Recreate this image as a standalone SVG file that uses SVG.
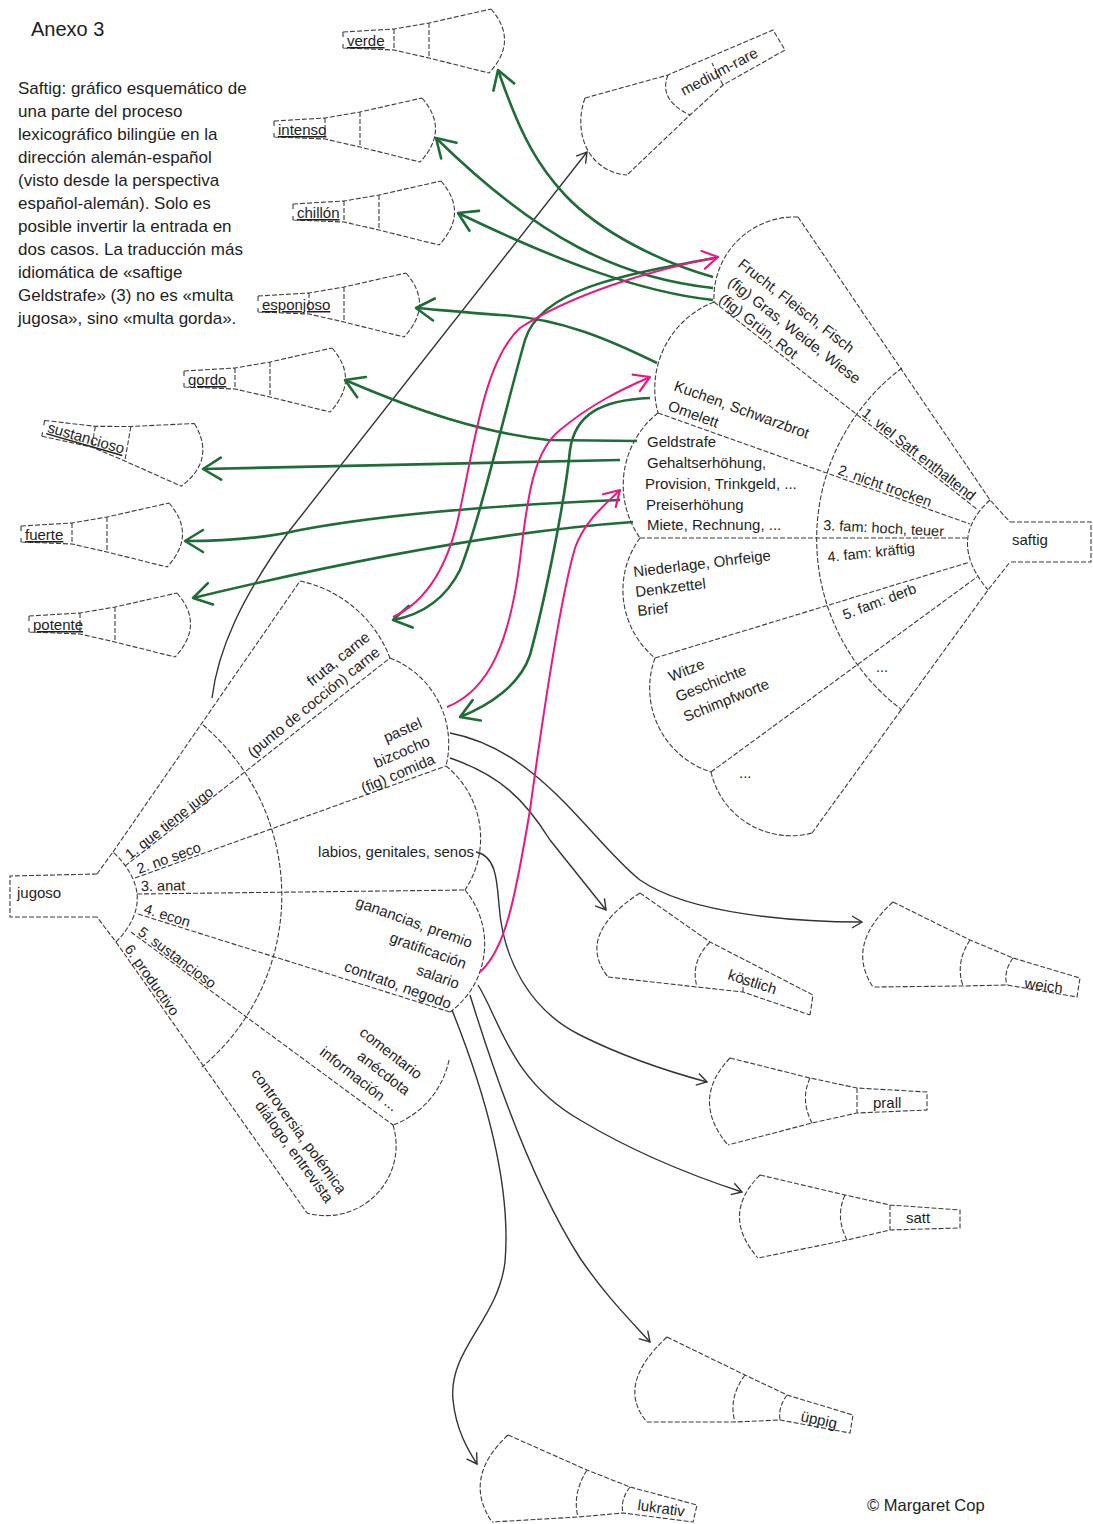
<svg xmlns="http://www.w3.org/2000/svg" width="1093" height="1524" viewBox="0 0 1093 1524">
<defs>
<style>
.ln{fill:none;stroke:#3c3c3c;stroke-width:1.1;stroke-dasharray:5 2}
.bk{fill:none;stroke:#333;stroke-width:1.4}
.gr{fill:none;stroke:#1f6d36;stroke-width:2.6}
.pk{fill:none;stroke:#e8197f;stroke-width:2}
text{font-family:"Liberation Sans",Arial,sans-serif;fill:#1e1e1e}
.t15{font-size:15px}
.t14{font-size:14.5px}
.sp{font-size:15px;text-decoration:underline}
.de{font-size:15px}
.par{font-size:17px}
</style>
<marker id="mg" markerUnits="userSpaceOnUse" markerWidth="28" markerHeight="28" viewBox="-22 -14 28 28" refX="0" refY="0" orient="auto"><path d="M-18,-11 L0,0 L-18,11" fill="none" stroke="#1f6d36" stroke-width="2.6" stroke-linecap="round" stroke-linejoin="round"/></marker>
<marker id="mp" markerUnits="userSpaceOnUse" markerWidth="24" markerHeight="24" viewBox="-18 -12 24 24" refX="0" refY="0" orient="auto"><path d="M-15,-9 L0,0 L-15,9" fill="none" stroke="#e8197f" stroke-width="2.2" stroke-linecap="round" stroke-linejoin="round"/></marker>
<marker id="mb" markerUnits="userSpaceOnUse" markerWidth="16" markerHeight="16" viewBox="-12 -8 16 16" refX="0" refY="0" orient="auto"><path d="M-10,-6 L0,0 L-10,6" fill="none" stroke="#333" stroke-width="1.4"/></marker>
<path id="sf" fill="none" stroke="#3c3c3c" stroke-width="1.1" stroke-dasharray="5 2" d="M-4,-9 L47,-12 L82,-18 L144,-32 M-4,7 L47,9 L82,17 L142,32 M-4,-9 L-4,-4 M-4,7 L-4,3 M47,-12 L47,9 M82,-18 L82,17 M144,-32 Q172,0 142,32"/>
</defs>
<rect x="0" y="0" width="1093" height="1524" fill="#ffffff"/>

<g id="title">
<text x="31" y="36" style="font-size:20px">Anexo 3</text>
<text class="par" x="18" y="94">Saftig: gráfico esquemático de</text>
<text class="par" x="18" y="117">una parte del proceso</text>
<text class="par" x="18" y="140">lexicográfico bilingüe en la</text>
<text class="par" x="18" y="163">dirección alemán-español</text>
<text class="par" x="18" y="186">(visto desde la perspectiva</text>
<text class="par" x="18" y="209">español-alemán). Solo es</text>
<text class="par" x="18" y="232">posible invertir la entrada en</text>
<text class="par" x="18" y="255">dos casos. La traducción más</text>
<text class="par" x="18" y="278">idiomática de «saftige</text>
<text class="par" x="18" y="301">Geldstrafe» (3) no es «multa</text>
<text class="par" x="18" y="324">jugosa», sino «multa gorda».</text>
</g>

<g id="saftig">
<path class="ln" d="M1010,522 L1091,522 L1091,562 L1010,562"/>
<path class="ln" d="M798,217 L990,500 L1010,522 M714,302 L978,510 M658,413 L970,524 M640,538 L968,538 M655,658 L970,562 M711,772 L977,577 M812,833 L988,590 L1010,562"/>
<path class="ln" d="M990,500 Q946,540 988,590"/>
<path class="ln" d="M902,368 A214,214 0 0 0 902,710"/>
<path class="ln" d="M798,217 A81,81 0 0 0 714,302 M714,302 A93,93 0 0 0 658,413 M658,413 A92,92 0 0 0 640,538 M640,538 A88,88 0 0 0 655,658 M655,658 A88,88 0 0 0 711,772 M711,772 A82,82 0 0 0 812,833"/>
<text class="t15" x="1012" y="545">saftig</text>
<text class="t14" transform="translate(861,415) rotate(38.2)">1. viel Saft enthaltend</text>
<text class="t14" transform="translate(837,474) rotate(19.6)">2. nicht trocken</text>
<text class="t14" transform="translate(823,530) rotate(3)">3. fam: hoch, teuer</text>
<text class="t14" transform="translate(828,562) rotate(-6)">4. fam: kräftig</text>
<text class="t14" transform="translate(845,620) rotate(-21)">5. fam: derb</text>
<text class="t14" x="876" y="672">...</text>
<text class="t15" transform="translate(737,266) rotate(38)">Frucht, Fleisch, Fisch</text>
<text class="t15" transform="translate(727,284) rotate(38)">(fig) Gras, Weide, Wiese</text>
<text class="t15" transform="translate(718,301) rotate(38)">(fig) Grün, Rot</text>
<text class="t15" transform="translate(673,390) rotate(20)">Kuchen, Schwarzbrot</text>
<text class="t15" transform="translate(667,410) rotate(20)">Omelett</text>
<text class="t15" x="647" y="447">Geldstrafe</text>
<text class="t15" x="647" y="468">Gehaltserhöhung,</text>
<text class="t15" x="645" y="489">Provision, Trinkgeld, ...</text>
<text class="t15" x="646" y="510">Preiserhöhung</text>
<text class="t15" x="647" y="530">Miete, Rechnung, ...</text>
<text class="t15" transform="translate(634,577) rotate(-7)">Niederlage, Ohrfeige</text>
<text class="t15" transform="translate(636,597) rotate(-7)">Denkzettel</text>
<text class="t15" transform="translate(638,616) rotate(-6)">Brief</text>
<text class="t15" transform="translate(671,682) rotate(-22)">Witze</text>
<text class="t15" transform="translate(678,702) rotate(-22)">Geschichte</text>
<text class="t15" transform="translate(686,722) rotate(-22)">Schimpfworte</text>
<text class="t15" x="739" y="778">...</text>
</g>

<g id="jugoso">
<path class="ln" d="M97,874 L10,876 L10,917 L97,917"/>
<path class="ln" d="M97,874 L113,852 Q160,897 116,942 L97,917"/>
<path class="ln" d="M113,852 L300,581 M125,866 L390,658 M135,878 L446,766 M137,894 L465,890 M138,914 L450,1012 M131,932 L393,1125 M116,942 L307,1213"/>
<path class="ln" d="M203,725 A224,224 0 0 1 202,1067"/>
<path class="ln" d="M300,581 A124,124 0 0 1 390,658 M390,658 A92,92 0 0 1 446,766 M446,766 A93,93 0 0 1 465,890 M465,890 A84,84 0 0 1 450,1012 M449,1060 A88,88 0 0 1 393,1125 M393,1125 A70,70 0 0 1 307,1213"/>
<text class="t15" x="17" y="898">jugoso</text>
<text class="t14" transform="translate(130,860) rotate(-38.1)">1. que tiene jugo</text>
<text class="t14" transform="translate(139,874) rotate(-19.8)">2. no seco</text>
<text class="t14" transform="translate(141,891) rotate(-0.7)">3. anat</text>
<text class="t14" transform="translate(143,913) rotate(17.4)">4. econ</text>
<text class="t14" transform="translate(137,934) rotate(36.4)">5. sustancioso</text>
<text class="t14" transform="translate(124,949) rotate(54.8)">6. productivo</text>
<text class="t15" text-anchor="end" transform="translate(371,639) rotate(-39)">fruta, carne</text>
<text class="t15" text-anchor="end" transform="translate(381,654) rotate(-39)">(punto de cocción) carne</text>
<text class="t15" text-anchor="end" transform="translate(423,727) rotate(-23)">pastel</text>
<text class="t15" text-anchor="end" transform="translate(431,745) rotate(-23)">bizcocho</text>
<text class="t15" text-anchor="end" transform="translate(436,763) rotate(-23)">(fig) comida</text>
<text class="t15" text-anchor="end" x="474" y="857">labios, genitales, senos</text>
<text class="t15" text-anchor="end" transform="translate(470,948) rotate(20)">ganancias, premio</text>
<text class="t15" text-anchor="end" transform="translate(464,969) rotate(20)">gratificación</text>
<text class="t15" text-anchor="end" transform="translate(457,989) rotate(20)">salario</text>
<text class="t15" text-anchor="end" transform="translate(449,1009) rotate(20)">contrato, negodo</text>
<text class="t15" text-anchor="end" transform="translate(417,1080) rotate(38)">comentario</text>
<text class="t15" text-anchor="end" transform="translate(405,1096) rotate(38)">anécdota</text>
<text class="t15" text-anchor="end" transform="translate(393,1112) rotate(38)">información ...</text>
<text class="t15" text-anchor="end" transform="translate(339,1195) rotate(54)">controversia, polémica</text>
<text class="t15" text-anchor="end" transform="translate(326,1204) rotate(54)">diálogo, entrevista</text>
</g>

<g id="es-verde" transform="translate(347,41)"><use href="#sf"/><text class="sp" x="0" y="5">verde</text></g>
<g id="es-intenso" transform="translate(278,130)"><use href="#sf"/><text class="sp" x="0" y="5">intenso</text></g>
<g id="es-chillon" transform="translate(297,213)"><use href="#sf"/><text class="sp" x="0" y="5">chillón</text></g>
<g id="es-esponjoso" transform="translate(262,305)"><use href="#sf"/><text class="sp" x="0" y="5">esponjoso</text></g>
<g id="es-gordo" transform="translate(188,380)"><use href="#sf"/><text class="sp" x="0" y="5">gordo</text></g>
<g id="es-sustancioso" transform="translate(47,430) rotate(10)"><use href="#sf"/><text class="sp" transform="translate(0,2) rotate(6)">sustancioso</text></g>
<g id="es-fuerte" transform="translate(25,535)"><use href="#sf"/><text class="sp" x="0" y="5">fuerte</text></g>
<g id="es-potente" transform="translate(33,625)"><use href="#sf"/><text class="sp" x="0" y="5">potente</text></g>

<g id="de-medium-rare">
<path class="ln" d="M585,98 C572,135 590,172 627,175 M585,98 L668,75 L773,30 L785,50 L723,85 L690,115 L627,175 M668,75 Q658,100 690,115 M723,85 L712,63"/>
<text class="de" transform="translate(684,96) rotate(-28)">medium-rare</text>
</g>
<g id="de-koestlich">
<path class="ln" d="M640,893 Q575,935 608,977 M640,893 L710,942 L813,995 L810,1015 M608,977 L697,987 L743,992 L810,1015 M710,942 Q690,962 697,987 M743,980 L743,992"/>
<text class="de" transform="translate(727,979) rotate(18)">köstlich</text>
</g>
<g id="de-weich">
<path class="ln" d="M893,902 Q845,945 873,987 M893,902 L970,940 L1013,958 L1080,978 L1077,997 L1007,985 L963,986 L873,987 M970,940 Q955,963 963,986 M1013,958 Q1003,972 1007,985"/>
<text class="de" transform="translate(1024,988) rotate(8)">weich</text>
</g>
<g id="de-prall">
<path class="ln" d="M730,1058 Q690,1100 728,1145 M730,1058 L810,1078 L857,1088 L927,1092 L927,1110 L857,1113 L812,1123 L728,1145 M810,1078 Q800,1100 812,1123 M857,1088 L857,1113"/>
<text class="de" x="873" y="1108">prall</text>
</g>
<g id="de-satt">
<path class="ln" d="M760,1175 Q720,1215 758,1258 M760,1175 L845,1195 L890,1205 L960,1210 L960,1228 L890,1230 L847,1240 L758,1258 M845,1195 Q835,1217 847,1240 M890,1205 L890,1230"/>
<text class="de" x="906" y="1223">satt</text>
</g>
<g id="de-ueppig">
<path class="ln" d="M667,1337 Q615,1385 647,1422 M667,1337 L745,1375 L787,1395 L853,1415 L850,1433 L780,1420 L735,1422 L647,1422 M745,1375 Q728,1398 735,1422 M787,1395 Q778,1407 780,1420"/>
<text class="de" transform="translate(800,1421) rotate(12)">üppig</text>
</g>
<g id="de-lukrativ">
<path class="ln" d="M508,1435 Q462,1478 492,1522 M508,1435 L587,1470 L630,1487 L697,1505 L693,1522 L623,1513 L578,1517 L492,1522 M587,1470 Q572,1494 578,1517 M630,1487 Q620,1500 623,1513"/>
<text class="de" transform="translate(637,1510) rotate(8)">lukrativ</text>
</g>

<g id="connectors">
<path class="bk" marker-end="url(#mb)" d="M212,698 C218,650 240,600 290,530 L587,152"/>
<path class="bk" marker-end="url(#mb)" d="M450,733 C540,750 590,840 640,880 C690,915 800,922 862,922"/>
<path class="bk" marker-end="url(#mb)" d="M450,758 C500,775 525,800 550,840 L606,910"/>
<path class="bk" marker-end="url(#mb)" d="M476,852 C496,856 497,880 499,905 C503,960 530,1010 580,1035 C620,1055 670,1072 707,1082"/>
<path class="bk" marker-end="url(#mb)" d="M478,985 C500,1020 510,1080 580,1120 C630,1150 690,1175 742,1192"/>
<path class="bk" marker-end="url(#mb)" d="M470,995 C490,1060 530,1180 580,1258 C605,1295 630,1320 650,1342"/>
<path class="bk" marker-end="url(#mb)" d="M452,1010 C480,1080 512,1180 505,1262 C498,1320 448,1350 453,1400 C456,1430 468,1450 477,1464"/>

<path class="gr" marker-end="url(#mg)" d="M713,277 C660,262 600,232 565,195 C540,168 522,140 498,70"/>
<path class="gr" marker-end="url(#mg)" d="M713,288 C620,278 540,240 436,138"/>
<path class="gr" marker-end="url(#mg)" d="M713,300 C640,292 560,262 458,213"/>
<path class="gr" marker-end="url(#mg)" d="M657,363 C610,340 560,318 500,315 C470,313 440,310 416,308"/>
<path class="gr" marker-end="url(#mg)" d="M637,441 L548,440 C480,432 420,412 345,380"/>
<path class="gr" marker-end="url(#mg)" d="M620,460 L203,469"/>
<path class="gr" marker-end="url(#mg)" d="M620,500 C500,505 380,515 300,530 C270,537 230,541 185,541"/>
<path class="gr" marker-end="url(#mg)" d="M633,522 C520,530 380,553 193,598"/>
<path class="gr" marker-end="url(#mg)" d="M715,258 C620,275 540,290 525,340 C505,410 480,520 460,570 C445,600 420,615 393,620"/>
<path class="gr" marker-end="url(#mg)" d="M650,398 C600,400 575,415 570,450 C565,500 545,600 530,655 C520,685 490,705 460,717"/>

<path class="pk" marker-end="url(#mp)" d="M393,617 C430,600 450,560 460,510 C475,440 485,360 520,328 C570,295 650,270 718,257"/>
<path class="pk" marker-end="url(#mp)" d="M447,707 C490,690 510,640 520,560 C528,490 535,450 560,430 C590,405 620,390 650,377"/>
<path class="pk" marker-end="url(#mp)" d="M480,972 C505,950 515,900 530,810 C545,700 560,600 575,548 C585,520 605,505 620,490"/>
</g>

<text x="867" y="1511" style="font-size:16.5px">© Margaret Cop</text>
</svg>
